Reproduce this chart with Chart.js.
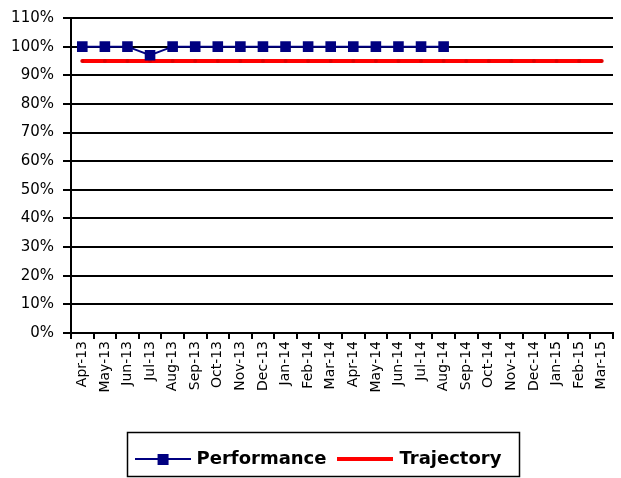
<!DOCTYPE html>
<html>
<head>
<meta charset="utf-8">
<script src="https://cdn.jsdelivr.net/npm/chart.js@4"></script>
<style>
  html, body { margin: 0; padding: 0; background: #ffffff; }
  #wrap { width: 621px; height: 478px; }
</style>
</head>
<body>
<div id="wrap"><canvas id="grafico" width="621" height="478"></canvas></div>
<script>
// Datos del grafico
let meses = ['Apr-13', 'May-13', 'Jun-13', 'Jul-13', 'Aug-13', 'Sep-13', 'Oct-13', 'Nov-13',
  'Dec-13', 'Jan-14', 'Feb-14', 'Mar-14', 'Apr-14', 'May-14', 'Jun-14', 'Jul-14', 'Aug-14',
  'Sep-14', 'Oct-14', 'Nov-14', 'Dec-14', 'Jan-15', 'Feb-15', 'Mar-15'];
let performance = [1, 1, 1, 0.97, 1, 1, 1, 1, 1, 1, 1, 1, 1, 1, 1, 1, 1,
  null, null, null, null, null, null, null];
let trajectory = [0.95, 0.95, 0.95, 0.95, 0.95, 0.95, 0.95, 0.95, 0.95, 0.95, 0.95, 0.95,
  0.95, 0.95, 0.95, 0.95, 0.95, 0.95, 0.95, 0.95, 0.95, 0.95, 0.95, 0.95];

let fuente = 'DejaVu Sans';

// iconos de la leyenda (linea con marcador)
function icono(color, ancho, cuadrado) {
  let c = document.createElement('canvas');
  c.width = 56; c.height = 14;
  let ctx = c.getContext('2d');
  ctx.strokeStyle = color;
  ctx.lineWidth = ancho;
  ctx.beginPath();
  ctx.moveTo(0, 7); ctx.lineTo(56, 7);
  ctx.stroke();
  if (cuadrado) {
    ctx.fillStyle = color;
    ctx.fillRect(23, 2, 11, 11);
  }
  return c;
}
let iconoPerf = icono('#000080', 2, true);
let iconoTray = icono('#ff0000', 4, false);

// Mueve la leyenda un poco a la derecha y le pone borde
let bordeLeyenda = {
  id: 'bordeLeyenda',
  afterLayout(chart) {
    chart.legend.left += 13;
    chart.legend.right += 13;
  },
  afterDraw(chart) {
    let ctx = chart.ctx;
    ctx.save();
    ctx.strokeStyle = '#000000';
    ctx.lineWidth = 1.5;
    ctx.strokeRect(127.5, 432.5, 392, 44);
    ctx.restore();
  }
};

let canvas = document.getElementById('grafico');
let grafica = new Chart(canvas, {
  type: 'line',
  data: {
    labels: meses,
    datasets: [{
      label: 'Performance',
      data: performance,
      borderColor: '#000080',
      backgroundColor: '#000080',
      borderWidth: 2,
      pointStyle: 'rect',
      pointRadius: 7.5,
      pointBorderWidth: 0,
      tension: 0,
      spanGaps: false
    }, {
      label: 'Trajectory',
      data: trajectory,
      borderColor: '#ff0000',
      backgroundColor: '#ff0000',
      borderWidth: 4,
      pointRadius: 2,
      pointBackgroundColor: '#e00000',
      pointBorderWidth: 0,
      tension: 0
    }]
  },
  options: {
    responsive: false,
    animation: false,
    layout: { padding: { left: 0, right: 8, top: 8, bottom: 0 } },
    plugins: {
      tooltip: { enabled: false },
      legend: {
        position: 'bottom',
        labels: {
          usePointStyle: true,
          pointStyleWidth: 50,
          padding: 14,
          color: '#000000',
          font: { family: fuente, size: 18, weight: 'bold' },
          generateLabels: function () {
            return [
              { text: 'Performance', pointStyle: iconoPerf, fontColor: '#000000', lineWidth: 0 },
              { text: 'Trajectory', pointStyle: iconoTray, fontColor: '#000000', lineWidth: 0 }
            ];
          }
        }
      }
    },
    scales: {
      x: {
        offset: true,
        afterFit: function (scale) { scale.height = 103; },
        grid: {
          display: true,
          drawOnChartArea: false,
          offset: true,
          color: '#000000',
          lineWidth: 2,
          tickLength: 6
        },
        border: { color: '#000000', width: 2 },
        ticks: {
          autoSkip: false,
          minRotation: 90,
          maxRotation: 90,
          padding: 2,
          color: '#000000',
          font: { family: fuente, size: 14 }
        }
      },
      y: {
        min: 0,
        max: 1.1,
        afterFit: function (scale) { scale.width = 71; },
        grid: {
          color: '#000000',
          lineWidth: 2,
          tickLength: 8
        },
        border: { color: '#000000', width: 2 },
        ticks: {
          stepSize: 0.1,
          padding: 9,
          color: '#000000',
          font: { family: fuente, size: 15 },
          callback: function (v) { return Math.round(v * 100) + '%'; }
        }
      }
    }
  },
  plugins: [bordeLeyenda]
});
</script>
</body>
</html>
